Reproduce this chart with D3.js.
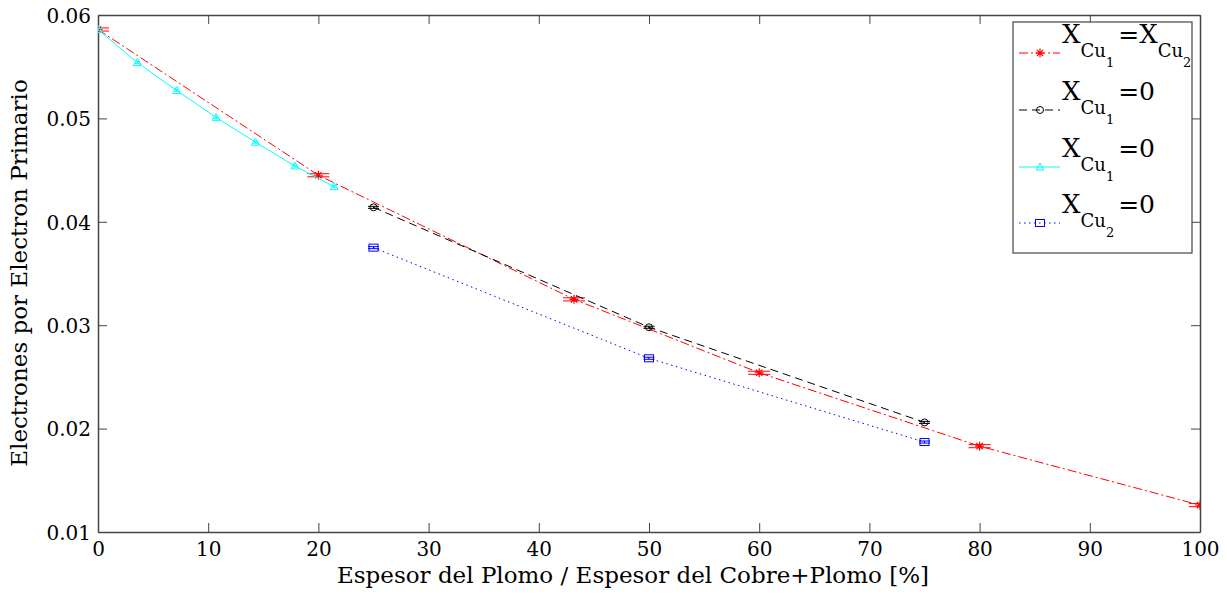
<!DOCTYPE html>
<html>
<head>
<meta charset="utf-8">
<script src="https://cdn.jsdelivr.net/npm/d3@7"></script>
<style>
body { margin: 0; background: #fff; }
text { font-family: "DejaVu Serif", "Liberation Serif", serif; fill: #000; }
</style>
</head>
<body>
<svg width="1227" height="600"></svg>
<script>
// data
let xIgual = [0, 20, 43.2, 60, 80, 100];
let yIgual = [0.0586, 0.0445, 0.0325, 0.0254, 0.0183, 0.0126];
let errIgual = 0.00015;

let xCu1a = [25, 50, 75];
let yCu1a = [0.0414, 0.0298, 0.0206];
let errCu1a = 0.0001;

let xCu1b = [0, 3.57, 7.14, 10.71, 14.29, 17.86, 21.43];
let yCu1b = [0.0586, 0.0554, 0.0527, 0.0501, 0.0477, 0.0454, 0.0434];
let errCu1b = 0.0001;

let xCu2 = [25, 50, 75];
let yCu2 = [0.0375, 0.0268, 0.0187];
let errCu2 = 0.0001;

let xTicks = [0, 10, 20, 30, 40, 50, 60, 70, 80, 90, 100];
let yTicks = [0.01, 0.02, 0.03, 0.04, 0.05, 0.06];

let svg = d3.select('svg');
let mLeft = 98, mRight = 1200, mTop = 15, mBottom = 532;
let x = d3.scaleLinear().domain([0, 100]).range([mLeft, mRight]);
let y = d3.scaleLinear().domain([0.01, 0.06]).range([mBottom, mTop]);

svg.append('defs').append('clipPath').attr('id', 'clip')
	.append('rect').attr('x', mLeft).attr('y', mTop).attr('width', mRight - mLeft).attr('height', mBottom - mTop);

// axes, MATLAB style: ticks inside, on all four sides
let axCol = '#444';
let tick = 9;
let gx = svg.append('g').attr('transform', `translate(0,${mBottom})`)
	.call(d3.axisBottom(x).tickValues(xTicks).tickSizeInner(-tick).tickSizeOuter(0).tickPadding(10));
let gxTop = svg.append('g').attr('transform', `translate(0,${mTop})`)
	.call(d3.axisTop(x).tickValues(xTicks).tickSizeInner(-tick).tickSizeOuter(0).tickFormat(''));
let gy = svg.append('g').attr('transform', `translate(${mLeft},0)`)
	.call(d3.axisLeft(y).tickValues(yTicks).tickSizeInner(-tick).tickSizeOuter(0).tickPadding(7).tickFormat(d3.format('.2f')));
let gyR = svg.append('g').attr('transform', `translate(${mRight},0)`)
	.call(d3.axisRight(y).tickValues(yTicks).tickSizeInner(-tick).tickSizeOuter(0).tickFormat(''));
[gx, gxTop, gy, gyR].forEach(g => {
	g.select('.domain').attr('stroke', axCol).attr('stroke-width', 1.5);
	g.selectAll('.tick line').attr('stroke', axCol);
	g.selectAll('.tick text').style('font-family', '"DejaVu Serif", serif').style('font-size', '20px').attr('fill', '#000');
});
gy.selectAll('.tick text').attr('dy', '0.36em');

svg.append('text').attr('x', 633).attr('y', 583).attr('text-anchor', 'middle')
	.style('font-size', '23px').text('Espesor del Plomo / Espesor del Cobre+Plomo [%]');
svg.append('text').attr('transform', 'translate(27,273) rotate(-90)').attr('text-anchor', 'middle')
	.style('font-size', '23px').text('Electrones por Electron Primario');

let plot = svg.append('g').attr('clip-path', 'url(#clip)');
let lineFn = d3.line().x(d => x(d[0])).y(d => y(d[1]));

let series = [
	{ xs: xIgual, ys: yIgual, err: errIgual, color: '#ff0000', dash: '9,3,2,3', marker: 'star' },
	{ xs: xCu1a, ys: yCu1a, err: errCu1a, color: '#000000', dash: '8,5', marker: 'circle' },
	{ xs: xCu1b, ys: yCu1b, err: errCu1b, color: '#00ffff', dash: null, marker: 'triangle' },
	{ xs: xCu2, ys: yCu2, err: errCu2, color: '#0000ff', dash: '1.5,3.5', marker: 'square' }
];

function drawMarker(g, kind, cx, cy, color) {
	if (kind == 'star') {
		let s = 4.5;
		g.append('path').attr('d', `M${cx - s},${cy}H${cx + s}M${cx},${cy - s}V${cy + s}M${cx - s * 0.7},${cy - s * 0.7}L${cx + s * 0.7},${cy + s * 0.7}M${cx - s * 0.7},${cy + s * 0.7}L${cx + s * 0.7},${cy - s * 0.7}`)
			.attr('stroke', color).attr('stroke-width', 1.2).attr('fill', 'none');
	}
	else if (kind == 'circle') {
		g.append('circle').attr('cx', cx).attr('cy', cy).attr('r', 3.5).attr('fill', 'none').attr('stroke', color);
	}
	else if (kind == 'triangle') {
		g.append('path').attr('d', `M${cx},${cy - 4}L${cx + 4},${cy + 3}L${cx - 4},${cy + 3}Z`).attr('fill', 'none').attr('stroke', color);
	}
	else if (kind == 'square') {
		g.append('rect').attr('x', cx - 4.5).attr('y', cy - 3.5).attr('width', 9).attr('height', 7).attr('fill', 'none').attr('stroke', color);
	}
}

series.forEach(s => {
	let pts = s.xs.map((v, i) => [v, s.ys[i]]);
	let p = plot.append('path').attr('d', lineFn(pts)).attr('fill', 'none').attr('stroke', s.color).attr('stroke-width', 1);
	if (s.dash) p.attr('stroke-dasharray', s.dash);
	// errorbar caps: half width is 1% of the series x range (as MATLAB does)
	let ext = d3.extent(s.xs);
	let cap = (ext[1] - ext[0]) / 100;
	pts.forEach(d => {
		[d[1] - s.err, d[1] + s.err].forEach(v => {
			plot.append('line').attr('x1', x(d[0] - cap)).attr('x2', x(d[0] + cap))
				.attr('y1', y(v)).attr('y2', y(v)).attr('stroke', s.color).attr('stroke-width', 1);
		});
		plot.append('line').attr('x1', x(d[0])).attr('x2', x(d[0]))
			.attr('y1', y(d[1] - s.err)).attr('y2', y(d[1] + s.err)).attr('stroke', s.color).attr('stroke-width', 1);
		drawMarker(plot, s.marker, x(d[0]), y(d[1]), s.color);
	});
});

// legend
let leg = svg.append('g');
leg.append('rect').attr('x', 1013).attr('y', 22).attr('width', 179).attr('height', 231)
	.attr('fill', '#fff').attr('stroke', axCol).attr('stroke-width', 1.2);
let legRows = [
	{ base: 43, parts: [['X', 'Cu', '1'], '=', ['X', 'Cu', '2']] },
	{ base: 100, parts: [['X', 'Cu', '1'], '=0'] },
	{ base: 157, parts: [['X', 'Cu', '1'], '=0'] },
	{ base: 213, parts: [['X', 'Cu', '2'], '=0'] }
];
legRows.forEach((r, i) => {
	let s = series[i];
	let ly = r.base + 10;
	let l = leg.append('line').attr('x1', 1019).attr('x2', 1060).attr('y1', ly).attr('y2', ly)
		.attr('stroke', s.color).attr('stroke-width', 1);
	if (s.dash) l.attr('stroke-dasharray', s.dash);
	drawMarker(leg, s.marker, 1040, ly, s.color);
	let t = leg.append('text').attr('x', 1062).attr('y', r.base);
	let off = 0; // current baseline shift
	r.parts.forEach(p => {
		if (typeof p == 'string') {
			t.append('tspan').style('font-size', '25px').attr('dx', 4).attr('dy', -off).text(p);
			off = 0;
		}
		else {
			t.append('tspan').style('font-size', '26px').attr('dy', -off).text(p[0]);
			t.append('tspan').style('font-size', '18px').attr('dy', 14).text(p[1]);
			t.append('tspan').style('font-size', '13px').attr('dy', 10).text(p[2]);
			off = 24;
		}
	});
});
</script>
</body>
</html>
